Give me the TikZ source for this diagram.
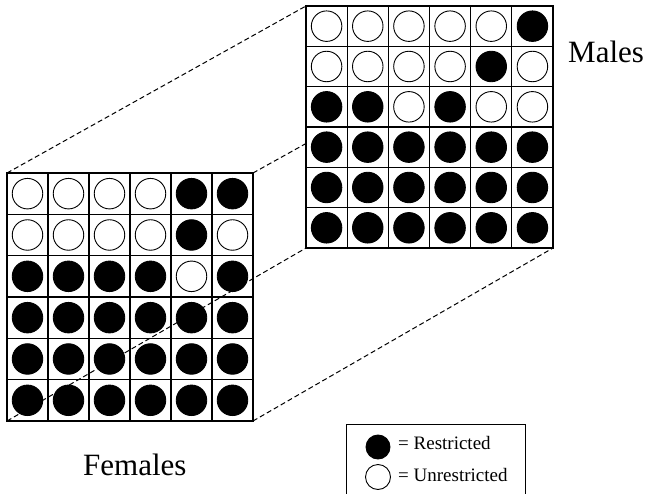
\documentclass[tikz,border=0pt]{standalone}
\usepackage{fontspec}
\setmainfont{Liberation Serif}
\begin{document}
\begin{tikzpicture}[x=1pt,y=-1pt,
  cellbox/.style={draw=black,fill=white,line width=1.2pt},
  c0/.style={circle,draw=black,fill=white,line width=0.9pt,minimum size=30.5pt,inner sep=0pt},
  c1/.style={circle,draw=black,fill=black,line width=0.9pt,minimum size=30.5pt,inner sep=0pt},
  link/.style={line width=1pt,dash pattern=on 5pt off 3pt},
  lab/.style={font=\fontsize{31}{36}\selectfont,inner sep=0pt,anchor=base west},
  leg/.style={font=\fontsize{19}{22}\selectfont,inner sep=0pt,anchor=west}]
\useasboundingbox (0,0) rectangle (647,494);
% corners
\coordinate (fTL) at (7,173);
\coordinate (fTR) at (253,173);
\coordinate (fBL) at (7,421);
\coordinate (fBR) at (253,421);
\coordinate (mTL) at (306,6);
\coordinate (mTR) at (553,6);
\coordinate (mBL) at (306,248);
\coordinate (mBR) at (553,248);
% hidden edge behind the male grid
\draw[link] (fTR) -- (mTR);
% male grid
\foreach \row [count=\r] in {{0,0,0,0,0,1},{0,0,0,0,1,0},{1,1,0,1,0,0},{1,1,1,1,1,1},{1,1,1,1,1,1},{1,1,1,1,1,1}}{
  \foreach \v [count=\c] in \row {
    \draw[cellbox] ({306+(\c-1)*41.17},{6+(\r-1)*40.33}) rectangle ++(41.17,40.33);
    \node[c\v] (m\r\c) at ({306+(\c-0.5)*41.17},{6+(\r-0.5)*40.33}) {};
  }
}
\draw[link] (fTL) -- (mTL);
\draw[link] (fBR) -- (mBR);
% female grid
\foreach \row [count=\r] in {{0,0,0,0,1,1},{0,0,0,0,1,0},{1,1,1,1,0,1},{1,1,1,1,1,1},{1,1,1,1,1,1},{1,1,1,1,1,1}}{
  \foreach \v [count=\c] in \row {
    \draw[cellbox] ({7+(\c-1)*41},{173+(\r-1)*41.33}) rectangle ++(41,41.33);
    \node[c\v] (f\r\c) at ({7+(\c-0.5)*41},{173+(\r-0.5)*41.33}) {};
  }
}
\draw[link] (fBL) -- (mBL);
% labels
\node[lab] (males) at (568,63) {Males};
\node[lab] (females) at (83,475) {Females};
% legend
\draw[line width=1pt] (346,494) -- (346,424) -- (525,424) -- (525,494);
\node[c1,minimum size=24pt] (legR) at (378,447) {};
\node[c0,minimum size=25pt] (legU) at (378,477) {};
\node[leg] (legRt) at (398,443) {= Restricted};
\node[leg] (legUt) at (398,475) {= Unrestricted};
\end{tikzpicture}
\end{document}
